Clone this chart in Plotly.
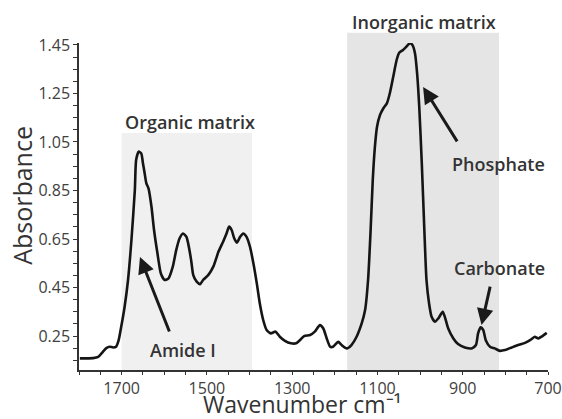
import plotly.graph_objects as go

# Spectrum (wavenumber cm-1, absorbance)
wavenumber = [1798, 1767, 1755, 1744, 1736, 1728, 1720, 1713, 1707, 1701, 1693, 1685, 1677, 1669,
              1666, 1660, 1654, 1650, 1646, 1642, 1637, 1630, 1624, 1616, 1608, 1599, 1590, 1580,
              1572, 1564, 1556, 1548, 1544, 1537, 1532, 1524, 1516, 1509, 1497, 1485, 1473, 1462,
              1454, 1448, 1442, 1436, 1430, 1422, 1415, 1407, 1399, 1391, 1383, 1376, 1368, 1360,
              1350, 1339, 1329, 1317, 1303, 1291, 1282, 1272, 1258, 1247, 1235, 1227, 1219, 1211,
              1204, 1192, 1184, 1172, 1161, 1149, 1137, 1129, 1122, 1116, 1111, 1106, 1101, 1094,
              1086, 1078, 1071, 1063, 1055, 1049, 1040, 1032, 1024, 1018, 1012, 1007, 1002, 996,
              990, 985, 979, 973, 965, 957, 947, 942, 934, 922, 911, 895, 879, 869, 864, 858, 852,
              846, 836, 825, 813, 801, 785, 770, 754, 742, 731, 723, 713, 703]
absorbance = [0.158, 0.159, 0.164, 0.185, 0.200, 0.206, 0.203, 0.206, 0.233, 0.288, 0.371, 0.481, 0.646, 0.852,
              0.976, 1.010, 1.003, 0.962, 0.921, 0.879, 0.859, 0.783, 0.687, 0.591, 0.508, 0.481, 0.488, 0.536,
              0.604, 0.653, 0.673, 0.659, 0.632, 0.563, 0.501, 0.474, 0.464, 0.481, 0.501, 0.536, 0.597, 0.639,
              0.673, 0.701, 0.687, 0.653, 0.635, 0.659, 0.673, 0.659, 0.618, 0.550, 0.467, 0.385, 0.316, 0.275,
              0.261, 0.268, 0.247, 0.230, 0.220, 0.220, 0.233, 0.250, 0.254, 0.268, 0.295, 0.281, 0.240, 0.206,
              0.206, 0.226, 0.213, 0.199, 0.213, 0.247, 0.302, 0.357, 0.481, 0.687, 0.893, 1.030, 1.113, 1.161,
              1.189, 1.209, 1.251, 1.319, 1.388, 1.418, 1.429, 1.443, 1.457, 1.450, 1.416, 1.333, 1.195, 0.962,
              0.687, 0.481, 0.385, 0.329, 0.309, 0.323, 0.350, 0.329, 0.281, 0.240, 0.217, 0.203, 0.199, 0.213, 0.261, 0.286, 0.275,
              0.233, 0.206, 0.199, 0.189, 0.192, 0.203, 0.213, 0.222, 0.233, 0.247, 0.240, 0.250, 0.263]

# Shaded regions (top given as fraction of plot height)
region_names = ["Organic matrix", "Inorganic matrix"]
region_start = [1700, 1171]
region_end = [1394, 815]
region_top = [0.725, 1.031]
region_colors = ["#f0f0f0", "#e5e5e5"]
region_label_x = [1540, 991]
region_label_y = [0.758, 1.064]

# Band labels with arrows
band_names = ["Amide I", "Phosphate", "Carbonate"]
band_text_x = [1556, 817, 813]
band_text_y = [0.192, 0.959, 0.530]
band_head_x = [1657, 993, 856]
band_head_y = [0.576, 1.277, 0.295]
band_tail_dx = [30, 35, 9]
band_tail_dy = [76, 56, -40]

x_range = [1800, 700]
y_range = [0.110, 1.458]
x_title = "Wavenumber cm\u207b\u00b9"
y_title = "Absorbance"

fig = go.Figure()
fig.add_trace(go.Scatter(x=wavenumber, y=absorbance, mode="lines",
                         line=dict(color="#151515", width=2.6, shape="spline", smoothing=0.6),
                         hoverinfo="skip", showlegend=False))

font_fam = "Open Sans, Liberation Sans, sans-serif"
for name, x0, x1, top, col in zip(region_names, region_start, region_end, region_top, region_colors):
    fig.add_shape(type="rect", xref="x", yref="paper", x0=x0, x1=x1, y0=0, y1=top,
                  fillcolor=col, line_width=0, layer="below")

for name, lx, ly in zip(region_names, region_label_x, region_label_y):
    fig.add_annotation(x=lx, y=ly, xref="x", yref="paper", text=name, showarrow=False,
                       xanchor="center", yanchor="middle",
                       font=dict(family=font_fam, size=18, color="#333333", weight=600))

for name, tx, ty in zip(band_names, band_text_x, band_text_y):
    fig.add_annotation(x=tx, y=ty, xref="x", yref="y", text=name, showarrow=False,
                       xanchor="center", yanchor="middle",
                       font=dict(family=font_fam, size=18, color="#333333", weight=600))

for hx, hy, dx, dy in zip(band_head_x, band_head_y, band_tail_dx, band_tail_dy):
    fig.add_annotation(x=hx, y=hy, xref="x", yref="y", text="", showarrow=True,
                       ax=dx, ay=dy, arrowhead=2, arrowsize=1.1, arrowwidth=3,
                       arrowcolor="#1a1a1a")

# Axis titles
fig.add_annotation(x=0.477, y=-0.104, xref="paper", yref="paper", text=x_title, showarrow=False,
                   xanchor="center", yanchor="middle",
                   font=dict(family=font_fam, size=23, color="#333333"))
fig.add_annotation(x=-0.122, y=0.535, xref="paper", yref="paper", text=y_title, showarrow=False,
                   xanchor="center", yanchor="middle", textangle=-90,
                   font=dict(family=font_fam, size=25, color="#333333"))

fig.update_layout(
    width=562, height=419,
    margin=dict(l=79, r=14, t=43, b=49),
    paper_bgcolor="white", plot_bgcolor="white",
    font=dict(family=font_fam, color="#404040"),
)
fig.update_xaxes(range=x_range, showgrid=False, zeroline=False, automargin=False,
                 showline=True, linecolor="#333333", linewidth=1.5,
                 tick0=1700, dtick=200, ticks="outside", ticklen=3, tickcolor="#333333",
                 minor=dict(dtick=50, ticks="outside", ticklen=3, tickcolor="#333333"),
                 ticklabelstandoff=0,
                 tickfont=dict(size=16, color="#404040"))
fig.update_yaxes(range=y_range, showgrid=False, zeroline=False, automargin=False,
                 showline=True, linecolor="#333333", linewidth=1.5,
                 tick0=0.25, dtick=0.2, tickformat=".2f", ticks="outside", ticklen=4, tickcolor="#333333",
                 minor=dict(dtick=0.05, ticks="outside", ticklen=4, tickcolor="#333333"),
                 tickfont=dict(size=16, color="#404040"))

fig.write_html("out.html")
